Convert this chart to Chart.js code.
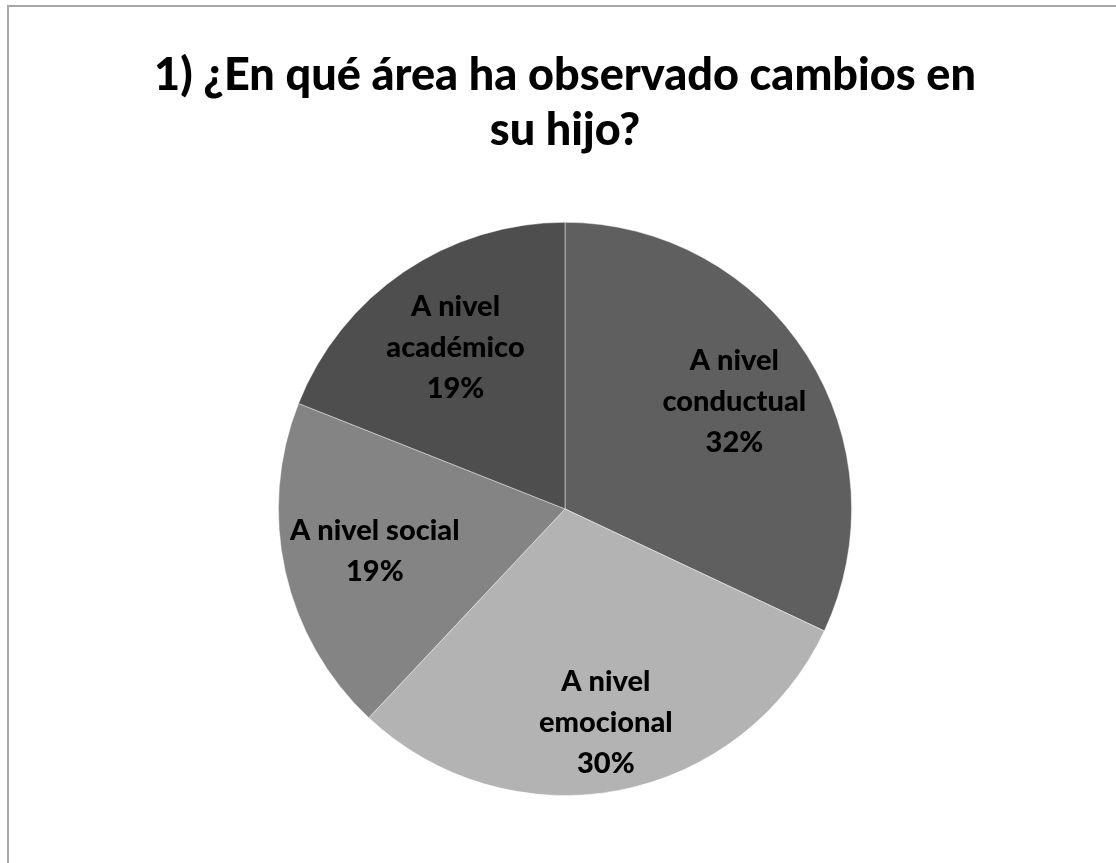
<!DOCTYPE html>
<html lang="es">
<head>
    <meta charset="UTF-8">
    <title>Cambios observados</title>
    <script src="https://cdn.jsdelivr.net/npm/chart.js"></script>
    <style>
        body { margin: 0; background: #ffffff; overflow: hidden; }
        #frame {
            position: absolute;
            left: 7px;
            top: 5px;
            width: 1200px;
            height: 900px;
            border-left: 2px solid #a6a6a6;
            border-top: 2px solid #a6a6a6;
        }
        #wrap { position: absolute; left: 0; top: 0; width: 1116px; height: 863px; }
    </style>
</head>
<body>
    <div id="frame"></div>
    <div id="wrap"><canvas id="pieChart" width="1116" height="863"></canvas></div>

    <script>
        // survey answers, clockwise from 12 o'clock
        const categories = ['A nivel conductual', 'A nivel emocional', 'A nivel social', 'A nivel académico'];
        const percents = [32, 30, 19, 19];
        const labelLines = [
            ['A nivel', 'conductual', '32%'],
            ['A nivel', 'emocional', '30%'],
            ['A nivel social', '19%'],
            ['A nivel', 'académico', '19%']
        ];
        const titleLines = ['1) ¿En qué área ha observado cambios en', 'su hijo?'];

        const sliceColors = ['#5f5f5f', '#b3b3b3', '#848484', '#4e4e4e'];
        const fontFamily = 'Lato, "Open Sans", sans-serif';

        // write the label inside every slice, somewhere along its middle angle
        const sliceLabels = {
            id: 'sliceLabels',
            afterDatasetsDraw(chart, args, opts) {
                const ctx = chart.ctx;
                const meta = chart.getDatasetMeta(0);
                ctx.save();
                ctx.font = '900 ' + opts.size + 'px ' + fontFamily;
                ctx.fillStyle = '#000000';
                ctx.textAlign = 'center';
                ctx.textBaseline = 'middle';
                meta.data.forEach((arc, i) => {
                    const p = arc.getProps(['x', 'y', 'startAngle', 'endAngle', 'outerRadius'], true);
                    const mid = (p.startAngle + p.endAngle) / 2;
                    const r = p.outerRadius * opts.radial[i];
                    const cx = p.x + Math.cos(mid) * r;
                    const cy = p.y + Math.sin(mid) * r;
                    const lines = labelLines[i];
                    const top = cy - (lines.length - 1) * opts.lineGap / 2;
                    lines.forEach((t, j) => ctx.fillText(t, cx, top + j * opts.lineGap));
                });
                ctx.restore();
            }
        };

        new Chart(document.getElementById('pieChart'), {
            type: 'pie',
            data: {
                labels: categories,
                datasets: [{
                    data: percents,
                    backgroundColor: sliceColors,
                    borderColor: 'rgba(255,255,255,0.45)',
                    borderWidth: 1
                }]
            },
            options: {
                responsive: false,
                animation: false,
                layout: { padding: { left: 14, right: 0, top: 0, bottom: 67 } },
                plugins: {
                    legend: { display: false },
                    tooltip: { enabled: false },
                    title: {
                        display: true,
                        text: titleLines,
                        color: '#000000',
                        font: { family: fontFamily, size: 45, weight: '900', lineHeight: 1.22 },
                        padding: { top: 48, bottom: 64 }
                    },
                    sliceLabels: {
                        size: 29,
                        lineGap: 41,
                        radial: [0.7, 0.76, 0.68, 0.68]
                    }
                }
            },
            plugins: [sliceLabels]
        });
    </script>
</body>
</html>
